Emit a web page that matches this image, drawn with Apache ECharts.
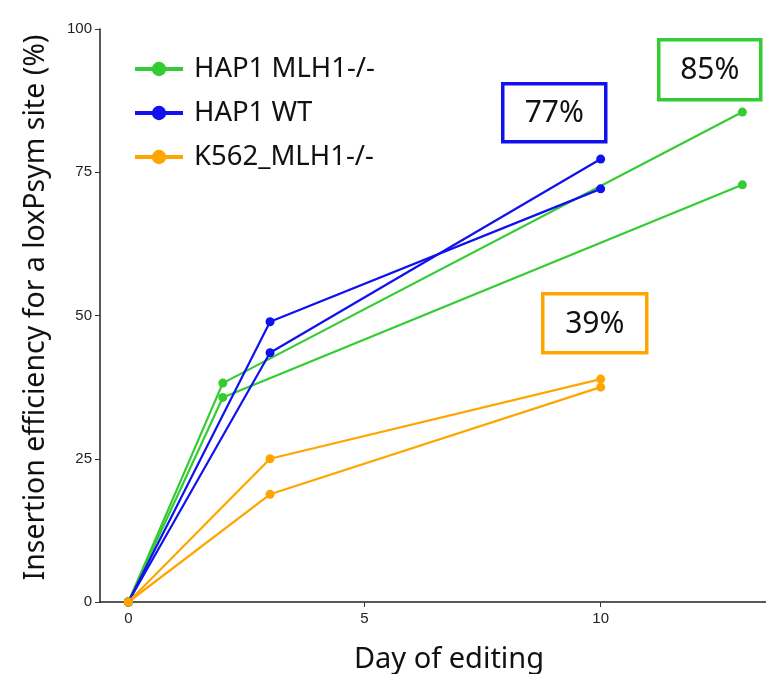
<!DOCTYPE html>
<html>
<head>
<meta charset="utf-8">
<script src="https://cdn.jsdelivr.net/npm/echarts@6/dist/echarts.min.js"></script>
<style>
  html, body { margin: 0; padding: 0; background: #fff; }
  #chart { width: 766px; height: 674px; }
</style>
</head>
<body>
<div id="chart"></div>
<script>
// 数据
var xTicks = [0, 5, 10];
var yTicks = [0, 25, 50, 75, 100];

var mlh1Rep1 = [[0, 0], [2, 38.2], [13, 85.5]];
var mlh1Rep2 = [[0, 0], [2, 35.7], [13, 72.8]];
var wtRep1 = [[0, 0], [3, 43.5], [10, 77.3]];
var wtRep2 = [[0, 0], [3, 48.9], [10, 72.1]];
var k562Rep1 = [[0, 0], [3, 25.0], [10, 38.9]];
var k562Rep2 = [[0, 0], [3, 18.8], [10, 37.5]];

var names = ['HAP1 MLH1-/-', 'HAP1 WT', 'K562_MLH1-/-'];
var colors = ['#33cc33', '#1010f0', '#ffa500'];
var boxLabels = ['85%', '77%', '39%'];

var myChart = echarts.init(document.getElementById('chart'));

function line(name, color, data) {
    return {
        name: name,
        type: 'line',
        data: data,
        symbol: 'circle',
        symbolSize: 9,
        lineStyle: { color: color, width: 2.2 },
        itemStyle: { color: color },
        emphasis: { disabled: true }
    };
}

// 注释框
function box(x, y, w, h, color, text) {
    return {
        type: 'group',
        left: x,
        top: y,
        children: [
            {
                type: 'rect',
                shape: { x: 0, y: 0, width: w, height: h },
                style: { fill: '#fff', stroke: color, lineWidth: 3.5 }
            },
            {
                type: 'text',
                x: w / 2,
                y: h / 2 + 1,
                style: {
                    text: text,
                    font: '30px "Noto Sans"',
                    fill: '#111',
                    align: 'center',
                    verticalAlign: 'middle'
                }
            }
        ]
    };
}

var option = {
    animation: false,
    grid: { left: 100, right: 0, top: 29, bottom: 72, outerBoundsMode: 'none' },
    legend: {
        orient: 'vertical',
        left: 128,
        top: 50,
        itemWidth: 48,
        itemHeight: 18,
        itemGap: 16,
        lineStyle: { width: 4 },
        textStyle: { fontFamily: 'Noto Sans', fontSize: 27.5, color: '#111', padding: [0, 0, 0, 6] },
        data: names
    },
    xAxis: {
        type: 'value',
        min: -0.6,
        max: 13.5,
        name: 'Day of editing',
        nameLocation: 'middle',
        nameGap: 43,
        nameTextStyle: { fontFamily: 'Noto Sans', fontSize: 29, color: '#111', padding: [0, 0, 0, 32] },
        splitLine: { show: false },
        axisLine: { show: true, onZero: false, lineStyle: { color: '#222', width: 1.5 } },
        axisTick: { show: true, customValues: xTicks, length: 5, lineStyle: { color: '#333' } },
        axisLabel: { customValues: xTicks, fontFamily: 'Liberation Sans', fontSize: 15, color: '#222', margin: 9 }
    },
    yAxis: {
        type: 'value',
        min: 0,
        max: 100,
        interval: 25,
        name: 'Insertion efficiency for a loxPsym site (%)',
        nameLocation: 'middle',
        nameGap: 50,
        nameTextStyle: { fontFamily: 'Noto Sans', fontSize: 28.5, color: '#111', padding: [0, 0, 0, 16] },
        splitLine: { show: false },
        axisLine: { show: true, onZero: false, lineStyle: { color: '#222', width: 1.5 } },
        axisTick: { show: true, customValues: yTicks, length: 5, lineStyle: { color: '#333' } },
        axisLabel: { customValues: yTicks, fontFamily: 'Liberation Sans', fontSize: 15, color: '#222', margin: 8 }
    },
    series: [
        line(names[0], colors[0], mlh1Rep1),
        line(names[0], colors[0], mlh1Rep2),
        line(names[1], colors[1], wtRep1),
        line(names[1], colors[1], wtRep2),
        line(names[2], colors[2], k562Rep1),
        line(names[2], colors[2], k562Rep2)
    ],
    graphic: [
        box(657, 38, 102, 60, colors[0], boxLabels[0]),
        box(501, 82, 103, 58, colors[1], boxLabels[1]),
        box(541, 292, 104, 59, colors[2], boxLabels[2])
    ]
};

myChart.setOption(option);
</script>
</body>
</html>
